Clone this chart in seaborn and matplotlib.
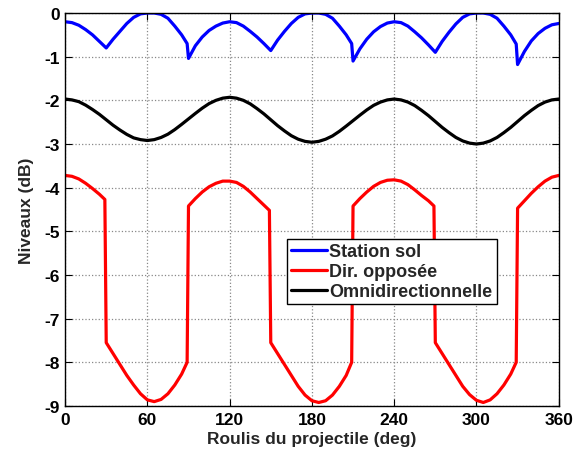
import pandas as pd
import matplotlib
matplotlib.use("Agg")
import matplotlib.pyplot as plt
import seaborn as sns

# Station sol (blue)
sol_x = [0, 5, 10, 15, 20, 25, 30, 35, 40, 45, 50, 55, 60, 65, 70, 75, 80, 85, 89,
         90, 95, 100, 105, 110, 115, 120, 125, 130, 135, 140, 145, 150,
         155, 160, 165, 170, 175, 180, 185, 190, 195, 200, 205, 209,
         210, 215, 220, 225, 230, 235, 240, 245, 250, 255, 260, 265, 270,
         275, 280, 285, 290, 295, 300, 305, 310, 315, 320, 325, 329,
         330, 335, 340, 345, 350, 355, 360]
sol_y = [-0.2, -0.22, -0.28, -0.38, -0.5, -0.65, -0.8, -0.6, -0.42, -0.24, -0.1, -0.02, 0.0,
         0.0, -0.03, -0.12, -0.3, -0.5, -0.7,
         -1.04, -0.75, -0.55, -0.4, -0.3, -0.23, -0.2, -0.22, -0.3, -0.42, -0.55, -0.7, -0.86,
         -0.62, -0.42, -0.24, -0.1, -0.02, 0.0, 0.0, -0.03, -0.12, -0.3, -0.5, -0.7,
         -1.1, -0.82, -0.6, -0.43, -0.31, -0.23, -0.2, -0.22, -0.3, -0.43, -0.57, -0.73, -0.9,
         -0.65, -0.44, -0.25, -0.1, -0.02, 0.0, 0.0, -0.03, -0.12, -0.3, -0.5, -0.71,
         -1.18, -0.88, -0.64, -0.47, -0.35, -0.27, -0.24]

# Dir. opposee (red)
opp_x = [0, 5, 10, 15, 20, 25, 29, 30, 35, 40, 45, 50, 55, 60, 65, 70, 75, 80, 85, 89,
         90, 95, 100, 105, 110, 115, 120, 125, 130, 135, 140, 145, 149,
         150, 155, 160, 165, 170, 175, 180, 185, 190, 195, 200, 205, 209,
         210, 215, 220, 225, 230, 235, 240, 245, 250, 255, 260, 265, 269,
         270, 275, 280, 285, 290, 295, 300, 305, 310, 315, 320, 325, 329,
         330, 335, 340, 345, 350, 355, 360]
opp_y = [-3.72, -3.74, -3.8, -3.9, -4.02, -4.15, -4.27,
         -7.55, -7.8, -8.05, -8.3, -8.52, -8.72, -8.86, -8.9, -8.85, -8.72, -8.52, -8.27, -8.0,
         -4.42, -4.25, -4.1, -3.98, -3.9, -3.85, -3.85, -3.88, -3.97, -4.1, -4.25, -4.4, -4.52,
         -7.55, -7.8, -8.05, -8.3, -8.55, -8.75, -8.88, -8.92, -8.88, -8.75, -8.55, -8.3, -8.0,
         -4.42, -4.25, -4.1, -3.97, -3.88, -3.83, -3.82, -3.85, -3.93, -4.05, -4.18, -4.3, -4.42,
         -7.55, -7.8, -8.05, -8.3, -8.55, -8.74, -8.87, -8.92, -8.86, -8.72, -8.52, -8.27, -8.0,
         -4.47, -4.3, -4.13, -3.98, -3.85, -3.76, -3.72]

# Omnidirectionnelle (black)
omni_x = list(range(0, 361, 5))
omni_y = [-1.97, -1.99, -2.03, -2.11, -2.21, -2.32, -2.445, -2.57, -2.68, -2.78, -2.86, -2.9,
          -2.92, -2.9, -2.85, -2.775, -2.67, -2.55, -2.425, -2.3, -2.18, -2.075, -2.0, -1.95,
          -1.93, -1.95, -2.0, -2.08, -2.19, -2.31, -2.445, -2.58, -2.7, -2.81, -2.89, -2.94,
          -2.96, -2.94, -2.89, -2.815, -2.71, -2.59, -2.465, -2.34, -2.22, -2.115, -2.04, -1.99,
          -1.97, -1.99, -2.04, -2.12, -2.23, -2.35, -2.485, -2.62, -2.74, -2.85, -2.93, -2.98,
          -3.0, -2.98, -2.93, -2.85, -2.74, -2.62, -2.485, -2.35, -2.23, -2.12, -2.04, -1.99,
          -1.97]

labels = ["Station sol", "Dir. opposée", "Omnidirectionnelle"]
colors = ["#0000ff", "#ff0000", "#000000"]

df = pd.concat([
    pd.DataFrame({"roulis": sol_x, "niveau": sol_y, "serie": labels[0]}),
    pd.DataFrame({"roulis": opp_x, "niveau": opp_y, "serie": labels[1]}),
    pd.DataFrame({"roulis": omni_x, "niveau": omni_y, "serie": labels[2]}),
])

sns.set_style("ticks")
plt.rcParams['font.family'] = ['Liberation Sans', 'DejaVu Sans']
plt.rcParams['font.weight'] = 'bold'
plt.rcParams['axes.unicode_minus'] = False

fig = plt.figure(figsize=[5.76, 4.52], dpi=100)
ax = fig.add_axes([0.113, 0.0996, 0.857, 0.8694])

sns.lineplot(data=df, x="roulis", y="niveau", hue="serie", hue_order=labels,
             palette=colors, sort=False, estimator=None, linewidth=2.3, ax=ax)

ax.set_xlim(0, 360)
ax.set_ylim(-9, 0)
ax.set_xticks(range(0, 361, 60))
ax.set_yticks(range(-9, 1))
ax.grid(True, linestyle=':', color='#888888', linewidth=0.9)
ax.tick_params(direction='in', length=5, width=0.8, top=True, right=True,
               labelsize=12.5, colors='black', pad=4)
for lab in ax.get_xticklabels() + ax.get_yticklabels():
    lab.set_fontweight('bold')
for sp in ax.spines.values():
    sp.set_color('black')
    sp.set_linewidth(1.0)

ax.set_xlabel('Roulis du projectile (deg)', fontsize=12.5, fontweight='bold', labelpad=3)
ax.set_ylabel('Niveaux (dB)', fontsize=12.5, fontweight='bold', labelpad=7)

leg = ax.legend(loc='upper left', bbox_to_anchor=(0.449, 0.425), borderaxespad=0,
                fontsize=13, handlelength=2.0, handletextpad=0.1, labelspacing=0.15,
                borderpad=0.25, fancybox=False, framealpha=1, edgecolor='black')
leg.get_frame().set_linewidth(1.0)
for t in leg.get_texts():
    t.set_fontweight('bold')
for h in leg.get_lines():
    h.set_linewidth(2.3)

plt.savefig('out.png', dpi=100)
